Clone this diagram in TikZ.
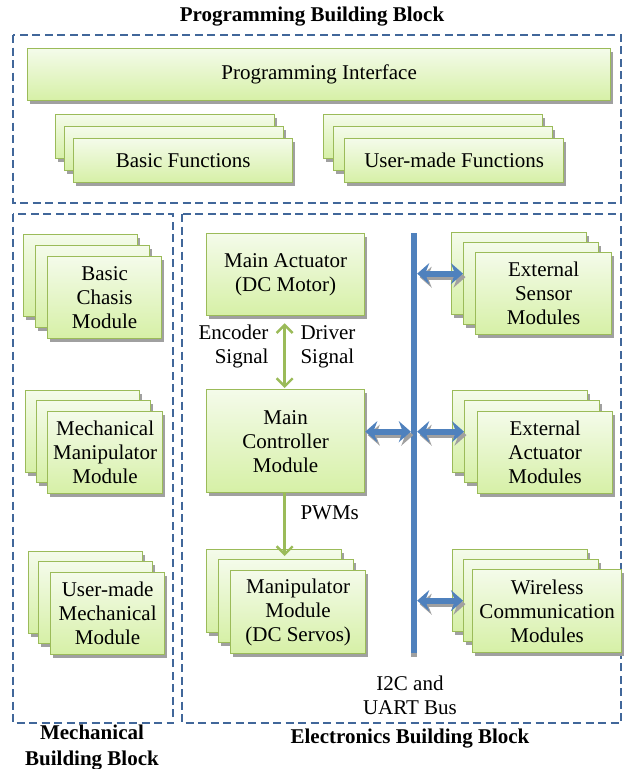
\documentclass[tikz,border=0pt]{standalone}
\usepackage{fontspec}
\setmainfont{Liberation Serif}
\usepackage{xcolor}
\usetikzlibrary{shapes,arrows.meta,positioning,calc,shadows}

\definecolor{boxborder}{HTML}{9BBB59}
\definecolor{boxtop}{HTML}{F4FBEA}
\definecolor{boxbottom}{HTML}{D6F0A6}
\definecolor{busblue}{HTML}{4F81BD}
\definecolor{dashblue}{HTML}{41679A}
\definecolor{shadowgray}{HTML}{A0A0A0}

\tikzset{
    every node/.style={font=\fontsize{21}{24}\selectfont},
    block/.style={draw=boxborder, line width=1.3pt, top color=boxtop, bottom color=boxbottom,
        drop shadow={shadow xshift=2.5pt, shadow yshift=-3pt, fill=shadowgray, opacity=1},
        align=center, inner sep=2pt, anchor=north west},
    frame/.style={draw=dashblue, line width=1.3pt, dash pattern=on 8pt off 4.5pt},
    title/.style={font=\fontsize{21}{26}\selectfont\bfseries, align=center},
    busarrow/.style={draw=busblue, line width=6pt,
        {Stealth[length=12pt, width=21pt, inset=4pt]}-{Stealth[length=12pt, width=21pt, inset=4pt]}},
    busshadow/.style={busarrow, draw=shadowgray},
    sigarrow/.style={draw=boxborder, line width=2.4pt}
}

\begin{document}
\begin{tikzpicture}[x=1pt, y=-1pt]
    \useasboundingbox (0,0) rectangle (624,769);

    % dashed building blocks
    \draw [frame] (13,35) rectangle (621,203);
    \draw [frame] (13,214) rectangle (173,723);
    \draw [frame] (182,214) rectangle (621,723);

    \node (progtitle) [title] at (312,17) {Programming Building Block};
    \node (mechtitle) [title] at (92,748) {Mechanical\\Building Block};
    \node (electitle) [title] at (410,739) {Electronics Building Block};

    % programming
    \node (progif) [block, minimum width=583pt, minimum height=52pt] at (27,48) {Programming Interface};

    \node (basicfunback) [block, minimum width=219pt, minimum height=44pt] at (55,114) {};
    \node (basicfunmid) [block, minimum width=219pt, minimum height=44pt] at (64,126) {};
    \node (basicfun) [block, minimum width=219pt, minimum height=44pt] at (73,138) {Basic Functions};

    \node (userfunback) [block, minimum width=219pt, minimum height=44pt] at (323,114) {};
    \node (userfunmid) [block, minimum width=219pt, minimum height=44pt] at (333,126) {};
    \node (userfun) [block, minimum width=219pt, minimum height=44pt] at (344,138) {User-made Functions};

    % mechanical
    \node (chasisback) [block, minimum width=114pt, minimum height=82pt] at (23,234) {};
    \node (chasismid) [block, minimum width=114pt, minimum height=82pt] at (35,245) {};
    \node (chasis) [block, minimum width=114pt, minimum height=82pt] at (47,256) {Basic\\Chasis\\Module};

    \node (manipback) [block, minimum width=114pt, minimum height=82pt] at (25,390) {};
    \node (manipmid) [block, minimum width=114pt, minimum height=82pt] at (36,400) {};
    \node (manip) [block, minimum width=115pt, minimum height=82pt] at (47,411) {Mechanical\\Manipulator\\Module};

    \node (usermechback) [block, minimum width=114pt, minimum height=82pt] at (28,551) {};
    \node (usermechmid) [block, minimum width=114pt, minimum height=82pt] at (38,561) {};
    \node (usermech) [block, minimum width=114pt, minimum height=82pt] at (50,572) {User-made\\Mechanical\\Module};

    % electronics
    \node (mainact) [block, minimum width=158pt, minimum height=82pt] at (206,233) {Main Actuator\\(DC Motor)};
    \node (ctrl) [block, minimum width=158pt, minimum height=103pt] at (206,389) {Main\\Controller\\Module};

    \node (servoback) [block, minimum width=135pt, minimum height=83pt] at (206,549) {};
    \node (servomid) [block, minimum width=135pt, minimum height=83pt] at (218,559) {};
    \node (servo) [block, minimum width=135pt, minimum height=83pt] at (230,570) {Manipulator\\Module\\(DC Servos)};

    \node (sensorback) [block, minimum width=135pt, minimum height=82pt] at (451,232) {};
    \node (sensormid) [block, minimum width=135pt, minimum height=82pt] at (463,242) {};
    \node (sensor) [block, minimum width=136pt, minimum height=82pt] at (475,252) {External\\Sensor\\Modules};

    \node (extactback) [block, minimum width=135pt, minimum height=82pt] at (452,390) {};
    \node (extactmid) [block, minimum width=135pt, minimum height=82pt] at (464,400) {};
    \node (extact) [block, minimum width=135pt, minimum height=82pt] at (477,411) {External\\Actuator\\Modules};

    \node (wirelessback) [block, minimum width=135pt, minimum height=82pt] at (452,549) {};
    \node (wirelessmid) [block, minimum width=135pt, minimum height=82pt] at (463,559) {};
    \node (wireless) [block, minimum width=149pt, minimum height=83pt] at (472,569) {Wireless\\Communication\\Modules};

    % bus
    \node (bus) [fill=busblue, minimum width=6pt, minimum height=420pt, inner sep=0pt,
        drop shadow={shadow xshift=0pt, shadow yshift=-4pt, fill=shadowgray, opacity=1}] at (414,443) {};
    \node (buslabel) [align=center] at (410,695) {I2C and\\UART Bus};

    \coordinate (senl) at (bus.east |- sensorback.west);
    \coordinate (senr) at (sensormid.west |- sensorback.west);
    \coordinate (ctrlr) at (ctrl.east |- extactback.west);
    \coordinate (busl) at (bus.west |- extactback.west);
    \coordinate (extl) at (bus.east |- extactback.west);
    \coordinate (extr) at (extactmid.west |- extactback.west);
    \coordinate (wirel) at (bus.east |- wirelessmid.west);
    \coordinate (wirer) at (wirelessmid.west);

    \draw [busshadow] ([shift={(2.5,3.5)}]senl) -- ([shift={(2.5,3.5)}]senr);
    \draw [busshadow] ([shift={(2.5,3.5)}]ctrlr) -- ([shift={(2.5,3.5)}]busl);
    \draw [busshadow] ([shift={(2.5,3.5)}]extl) -- ([shift={(2.5,3.5)}]extr);
    \draw [busshadow] ([shift={(2.5,3.5)}]wirel) -- ([shift={(2.5,3.5)}]wirer);
    \draw [busarrow] (senl) -- (senr);
    \draw [busarrow] (ctrlr) -- (busl);
    \draw [busarrow] (extl) -- (extr);
    \draw [busarrow] (wirel) -- (wirer);

    % signals
    \draw [sigarrow, {Straight Barb[length=8pt, width=16pt]}-{Straight Barb[length=8pt, width=16pt]},
        shorten <=7pt, shorten >=1pt] ([xshift=-1pt]mainact.south) -- ([xshift=-1pt]ctrl.north);
    \draw [sigarrow, -{Straight Barb[length=8pt, width=16pt]}, shorten >=3pt]
        ([xshift=-1pt]ctrl.south) -- ([xshift=-1pt]ctrl.south |- servomid.north);

    \node (encoder) [align=right, anchor=east] at (272,346) {Encoder\\Signal};
    \node (driver) [align=left, anchor=west] at (297,347) {Driver\\Signal};
    \node (pwm) [anchor=west] at (297,513) {PWMs};

\end{tikzpicture}
\end{document}
